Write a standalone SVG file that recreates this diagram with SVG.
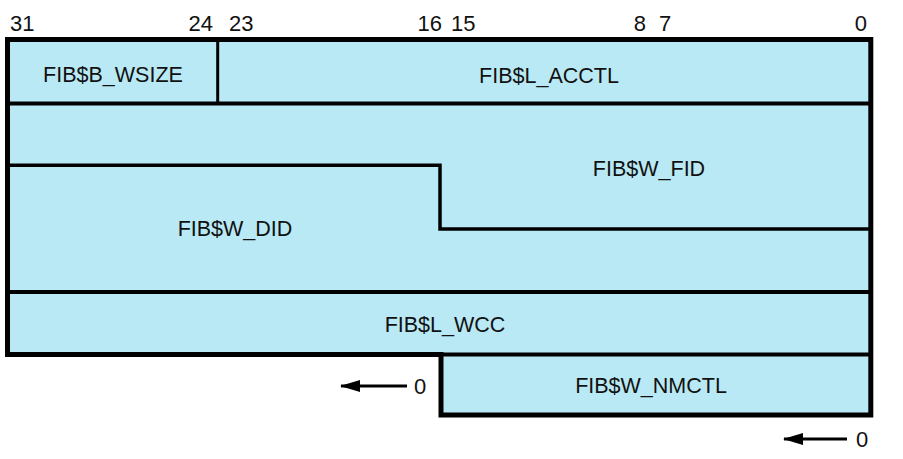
<svg xmlns="http://www.w3.org/2000/svg" width="903" height="459" viewBox="0 0 903 459">
<style>
.fill{fill:#B9E9F4;stroke:none}
.lbl{font-family:"Liberation Sans",Arial,sans-serif;font-size:21.5px;fill:#111;text-anchor:middle}
.num{font-family:"Liberation Sans",Arial,sans-serif;font-size:22px;fill:#111}
.thick{fill:none;stroke:#000;stroke-width:5;stroke-linejoin:miter}
.thin{fill:none;stroke:#000;stroke-width:3.5}
.arr{fill:none;stroke:#000;stroke-width:3}
</style>
<defs>
<marker id="ah" viewBox="0 0 20 12" refX="19" refY="6" markerWidth="20" markerHeight="12" markerUnits="userSpaceOnUse" orient="auto">
<path d="M0,0 L20,6 L0,12 Z" fill="#000"/>
</marker>
</defs>
<rect class="fill" x="7.5" y="39.5" width="863.3" height="315"/>
<rect class="fill" x="441" y="354.5" width="429.8" height="60.5"/>
<g id="bits">
<text class="num" x="10" y="31">31</text>
<text class="num" x="213" y="31" text-anchor="end">24</text>
<text class="num" x="229" y="31">23</text>
<text class="num" x="442" y="31" text-anchor="end">16</text>
<text class="num" x="451" y="31">15</text>
<text class="num" x="646" y="31" text-anchor="end">8</text>
<text class="num" x="659" y="31">7</text>
<text class="num" x="867" y="31" text-anchor="end">0</text>
</g>
<g id="wsize"><text class="lbl" x="113" y="82">FIB$B_WSIZE</text></g>
<g id="acctl"><text class="lbl" x="549" y="83">FIB$L_ACCTL</text></g>
<g id="fid"><text class="lbl" x="649" y="176">FIB$W_FID</text></g>
<g id="did"><text class="lbl" x="235" y="236">FIB$W_DID</text></g>
<g id="wcc"><text class="lbl" x="445" y="332">FIB$L_WCC</text></g>
<g id="nmctl"><text class="lbl" x="651" y="393">FIB$W_NMCTL</text></g>
<g id="connectors">
<path class="thick" d="M7.5,39.5 H870.8 V415 H441 V354.5 H7.5 Z"/>
<line class="thin" x1="7.5" y1="103.5" x2="870.8" y2="103.5" style="stroke-width:4"/>
<line class="thin" x1="217.7" y1="39.5" x2="217.7" y2="103.5" style="stroke-width:3"/>
<path class="thin" d="M7.5,165.3 H440 V229 H870.8"/>
<line class="thin" x1="7.5" y1="292" x2="870.8" y2="292" style="stroke-width:4"/>
<line class="thin" x1="441" y1="354.5" x2="870.8" y2="354.5" style="stroke-width:4"/>
<line class="arr" x1="407" y1="386" x2="341" y2="386" marker-end="url(#ah)"/>
<text class="num" x="414" y="394">0</text>
<line class="arr" x1="847" y1="439" x2="784" y2="439" marker-end="url(#ah)"/>
<text class="num" x="856" y="447">0</text>
</g>
</svg>
